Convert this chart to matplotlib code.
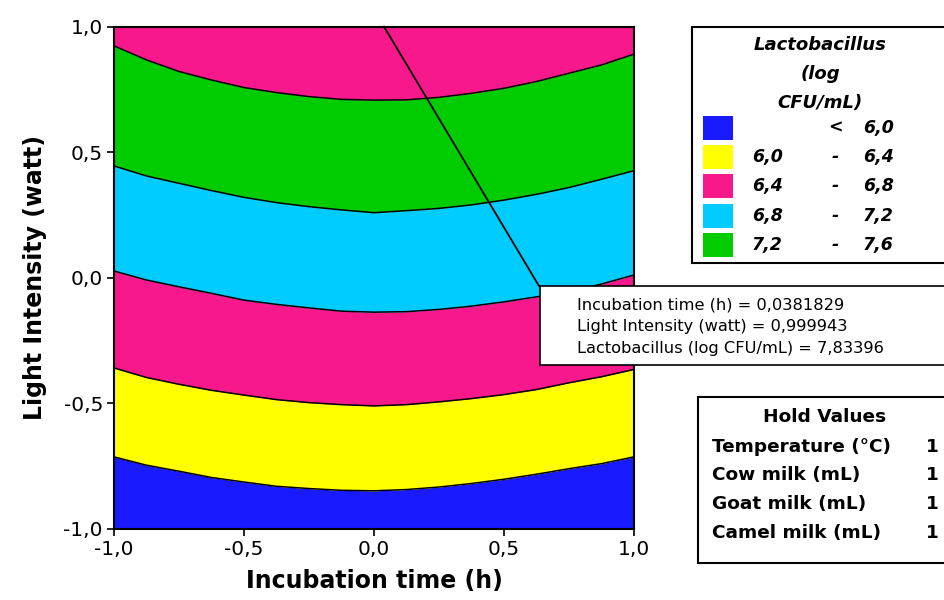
import numpy as np
import matplotlib
matplotlib.use("Agg")
import matplotlib.pyplot as plt
from matplotlib.patches import Rectangle
from matplotlib.ticker import FuncFormatter

# contour boundaries (Light Intensity at each Incubation time)
x_pts = [-1.0, -0.875, -0.75, -0.625, -0.5, -0.375, -0.25, -0.125, 0.0,
         0.125, 0.25, 0.375, 0.5, 0.625, 0.75, 0.875, 1.0]
b_60 = [-0.713, -0.746, -0.770, -0.795, -0.813, -0.830, -0.839, -0.846, -0.848,
        -0.843, -0.833, -0.819, -0.802, -0.782, -0.760, -0.740, -0.713]
b_64 = [-0.359, -0.397, -0.424, -0.448, -0.467, -0.485, -0.497, -0.505, -0.510,
        -0.505, -0.494, -0.481, -0.465, -0.445, -0.418, -0.394, -0.365]
b_68 = [0.027, -0.009, -0.036, -0.062, -0.089, -0.106, -0.120, -0.133, -0.137,
        -0.135, -0.126, -0.113, -0.096, -0.076, -0.056, -0.025, 0.011]
b_72 = [0.445, 0.405, 0.376, 0.347, 0.320, 0.299, 0.283, 0.270, 0.259,
        0.267, 0.276, 0.290, 0.309, 0.332, 0.359, 0.392, 0.426]
b_76 = [0.923, 0.867, 0.821, 0.787, 0.757, 0.737, 0.721, 0.710, 0.707,
        0.708, 0.718, 0.734, 0.754, 0.781, 0.814, 0.847, 0.890]

band_colors = ['#1a1aff', '#ffff00', '#f7198c', '#00ccff', '#00cc00', '#f7198c']
legend_ranges = [('', '<', '6,0'), ('6,0', '-', '6,4'), ('6,4', '-', '6,8'),
                 ('6,8', '-', '7,2'), ('7,2', '-', '7,6')]

hold_names = ['Temperature (°C)', 'Cow milk (mL)', 'Goat milk (mL)', 'Camel milk (mL)']
hold_vals = ['1', '1', '1', '1']

ann_x = 0.0381829
ann_y = 0.999943
ann_z = 7.83396

W, H = 945, 600
fig = plt.figure(figsize=(W / 100, H / 100), dpi=100)
ax = fig.add_axes([114 / W, 1 - 529 / H, 520 / W, 502.5 / H])

x = np.array(x_pts)
lower = [np.full_like(x, -1.0), b_60, b_64, b_68, b_72, b_76]
upper = [b_60, b_64, b_68, b_72, b_76, np.full_like(x, 1.0)]
for lo, hi, c in zip(lower, upper, band_colors):
    ax.fill_between(x, lo, hi, color=c, lw=0)
for b in [b_60, b_64, b_68, b_72, b_76]:
    ax.plot(x, b, color='black', lw=1.1)

ax.set_xlim(-1, 1)
ax.set_ylim(-1, 1)
ticks = [-1.0, -0.5, 0.0, 0.5, 1.0]
ax.set_xticks(ticks)
ax.set_yticks(ticks)
fmt = FuncFormatter(lambda v, p: ('%.1f' % v).replace('.', ','))
ax.xaxis.set_major_formatter(fmt)
ax.yaxis.set_major_formatter(fmt)
ax.tick_params(direction='out', length=5, width=1.2, labelsize=14.5, pad=3)
for s in ax.spines.values():
    s.set_linewidth(1.5)
ax.set_xlabel('Incubation time (h)', fontsize=17, fontweight='bold', labelpad=7)
ax.set_ylabel('Light Intensity (watt)', fontsize=17, fontweight='bold', labelpad=12)

# crosshair annotation line and box
ax.annotate('', xy=(ann_x, ann_y), xytext=(539 / W, 1 - 286 / H),
            textcoords='figure fraction', annotation_clip=False,
            arrowprops=dict(arrowstyle='-', lw=1.3, color='black',
                            shrinkA=0, shrinkB=0))
fig.patches.append(Rectangle((540 / W, 1 - 365 / H), 410 / W, 79 / H,
                             transform=fig.transFigure, facecolor='white',
                             edgecolor='black', lw=1.2, zorder=5))
ann_lines = ['Incubation time (h) = ' + str(ann_x).replace('.', ','),
             'Light Intensity (watt) = ' + str(ann_y).replace('.', ','),
             'Lactobacillus (log CFU/mL) = ' + str(ann_z).replace('.', ',')]
for i, t in enumerate(ann_lines):
    fig.text(577 / W, 1 - (305 + 22 * i) / H, t, fontsize=11.7,
             va='center', ha='left', zorder=6)

# legend box
fig.patches.append(Rectangle((692 / W, 1 - 263 / H), 260 / W, 236 / H,
                             transform=fig.transFigure, facecolor='white',
                             edgecolor='black', lw=1.5))
for i, t in enumerate(['Lactobacillus', '(log', 'CFU/mL)']):
    fig.text(820 / W, 1 - (45 + 29 * i) / H, t, fontsize=13,
             fontweight='bold', style='italic', ha='center', va='center')
for i, ((a, sep, b), c) in enumerate(zip(legend_ranges, band_colors)):
    yc = 128 + 29.2 * i
    fig.patches.append(Rectangle((703 / W, 1 - (yc + 12) / H), 30 / W, 24 / H,
                                 transform=fig.transFigure, facecolor=c,
                                 edgecolor='none'))
    kw = dict(fontsize=12.5, fontweight='bold', style='italic', va='center')
    fig.text(752 / W, 1 - yc / H, a, ha='left', **kw)
    fig.text(835 / W, 1 - yc / H, sep, ha='center', **kw)
    fig.text(863 / W, 1 - yc / H, b, ha='left', **kw)

# hold values box
fig.patches.append(Rectangle((698 / W, 1 - 563 / H), 260 / W, 166 / H,
                             transform=fig.transFigure, facecolor='white',
                             edgecolor='black', lw=1.5))
fig.text(825 / W, 1 - 417 / H, 'Hold Values', fontsize=13.3, fontweight='bold',
         ha='center', va='center')
for i, (n, v) in enumerate(zip(hold_names, hold_vals)):
    yc = 447 + 28.5 * i
    fig.text(712 / W, 1 - yc / H, n, fontsize=13.3, fontweight='bold',
             ha='left', va='center')
    fig.text(932 / W, 1 - yc / H, v, fontsize=13.3, fontweight='bold',
             ha='center', va='center')

fig.savefig('out.png', dpi=100)
